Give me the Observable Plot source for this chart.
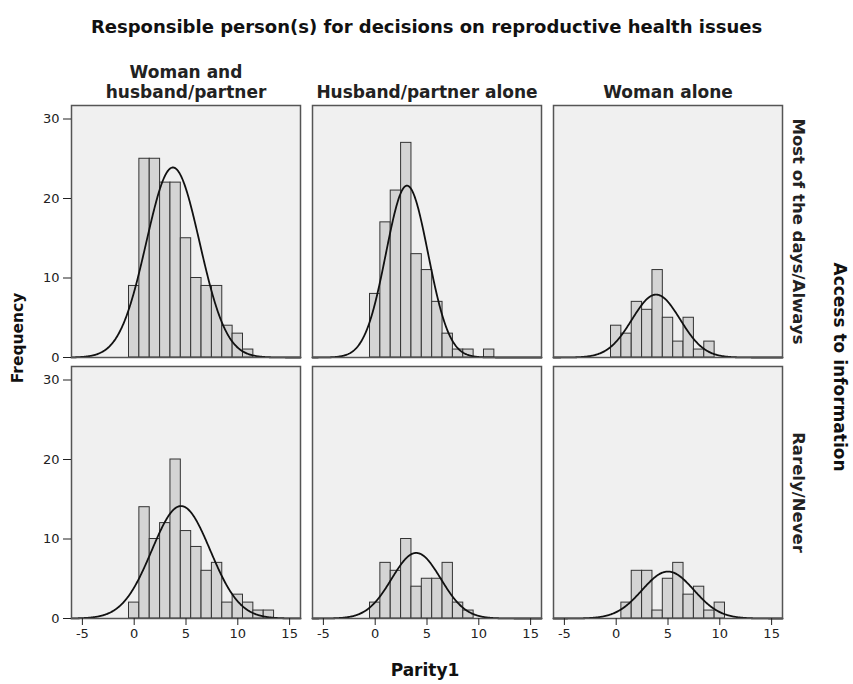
<!DOCTYPE html>
<html>
<head>
<meta charset="utf-8">
<script src="https://cdn.jsdelivr.net/npm/d3@7"></script>
<script src="https://cdn.jsdelivr.net/npm/@observablehq/plot@0.6"></script>
<style>
  body { margin: 0; background: #fff; font-family: "DejaVu Sans", sans-serif; }
  #title {
    height: 28px; padding-top: 17px; line-height: 20px;
    text-align: center; font-weight: bold; font-size: 18px; color: #111;
  }
  #chart svg { display: block; }
</style>
</head>
<body>
<div id="title">Responsible person(s) for decisions on reproductive health issues</div>
<div id="chart"></div>
<script>
// Panel categories
const responsible = ["Woman and husband/partner", "Husband/partner alone", "Woman alone"];
const responsibleHeader = ["Woman and\nhusband/partner", "Husband/partner alone", "Woman alone"];
const access = ["Most of the days/Always", "Rarely/Never"];

// Frequency of each parity (index = number of births, bins of width 1)
const jointMost     = [9, 25, 25, 22, 22, 15, 10, 9, 9, 4, 3, 1];
const husbandMost   = [8, 17, 21, 27, 13, 11, 7, 3, 1, 1, 0, 1];
const womanMost     = [4, 3, 7, 6, 11, 5, 2, 5, 1, 2];
const jointRarely   = [2, 14, 10, 12, 20, 11, 9, 6, 7, 2, 3, 2, 1, 1];
const husbandRarely = [2, 7, 6, 10, 4, 5, 5, 7, 2, 1];
const womanRarely   = [0, 2, 6, 6, 1, 5, 7, 3, 4, 1, 2];

// Normal-curve parameters for each panel (same order as the panel list below)
const parityMean = [3.74, 3.07, 3.85, 4.52, 3.96, 5.00];
const paritySD   = [2.57, 2.03, 2.32, 2.82, 2.37, 2.50];

// Axis ticks
const xTicks = [-5, 0, 5, 10, 15];
const yTicks = [0, 10, 20, 30];

const panels = [
  {resp: responsible[0], acc: access[0], counts: jointMost},
  {resp: responsible[1], acc: access[0], counts: husbandMost},
  {resp: responsible[2], acc: access[0], counts: womanMost},
  {resp: responsible[0], acc: access[1], counts: jointRarely},
  {resp: responsible[1], acc: access[1], counts: husbandRarely},
  {resp: responsible[2], acc: access[1], counts: womanRarely}
];

// Histogram bars
const bars = panels.flatMap(p =>
  p.counts.map((count, parity) => ({responsible: p.resp, access: p.acc, parity, count}))
          .filter(d => d.count > 0)
);

// Fitted normal curves scaled to frequency (n * bin width * density)
const xDomain = [-6.05, 16.05];
const curves = panels.flatMap((p, i) => {
  const n = d3.sum(p.counts), m = parityMean[i], s = paritySD[i];
  return d3.range(xDomain[0], xDomain[1] + 0.001, 0.05).map(x => ({
    responsible: p.resp, access: p.acc, panel: i, x,
    y: n * Math.exp(-0.5 * ((x - m) / s) ** 2) / (s * Math.sqrt(2 * Math.PI))
  }));
});

const W = 853, H = 639;
const chart = Plot.plot({
  width: W, height: H,
  marginLeft: 71, marginRight: 71, marginTop: 60, marginBottom: 65,
  style: {fontFamily: "DejaVu Sans, sans-serif", fontSize: "13px", color: "#222", background: "#fff", overflow: "visible"},
  fx: {domain: responsible, paddingInner: 0.05, paddingOuter: 0, label: null},
  fy: {domain: access, paddingInner: 0.034, paddingOuter: 0, label: null},
  x: {domain: xDomain, label: null},
  y: {domain: [0, 31.7], label: null},
  marks: [
    Plot.frame({fill: "#f0f0f0"}),
    Plot.rectY(bars, {
      x1: d => d.parity - 0.5, x2: d => d.parity + 0.5, y: "count",
      fx: "responsible", fy: "access",
      fill: "#d4d4d4", stroke: "#333", strokeWidth: 1
    }),
    Plot.line(curves, {x: "x", y: "y", z: "panel", fx: "responsible", fy: "access", stroke: "#111", strokeWidth: 1.8}),
    Plot.frame({stroke: "#555", strokeWidth: 1.5}),
    Plot.axisX({ticks: xTicks, tickFormat: d => String(d), tickSize: 7, tickPadding: 3, fontSize: 13, label: null}),
    Plot.axisY({ticks: yTicks, tickFormat: d => String(d), tickSize: 8, tickPadding: 4, fontSize: 13, label: null}),
    Plot.axisFx({anchor: "top", tickSize: 0, tickPadding: 8, fontSize: 17, fontWeight: "bold", lineHeight: 1.12,
      tickFormat: d => responsibleHeader[responsible.indexOf(d)], label: null}),
    Plot.axisFy({anchor: "right", tickSize: 0, tickPadding: 10, tickRotate: 90,
      lineAnchor: "bottom", textAnchor: "middle", fontSize: 16.5, fontWeight: "bold", label: null})
  ]
});
document.getElementById("chart").append(chart);

// Shared axis titles
const svg = d3.select(chart);
svg.append("text")
  .attr("transform", "translate(18,293) rotate(-90)")
  .attr("text-anchor", "middle").attr("dominant-baseline", "middle")
  .attr("font-size", 15.5).attr("font-weight", "bold").attr("fill", "#111")
  .text("Frequency");
svg.append("text")
  .attr("transform", "translate(839,322) rotate(90)")
  .attr("text-anchor", "middle").attr("dominant-baseline", "middle")
  .attr("font-size", 17).attr("font-weight", "bold").attr("fill", "#111")
  .text("Access to information");
svg.append("text")
  .attr("x", 425).attr("y", 626)
  .attr("text-anchor", "middle").attr("dominant-baseline", "middle")
  .attr("font-size", 17).attr("font-weight", "bold").attr("fill", "#111")
  .text("Parity1");
</script>
</body>
</html>
